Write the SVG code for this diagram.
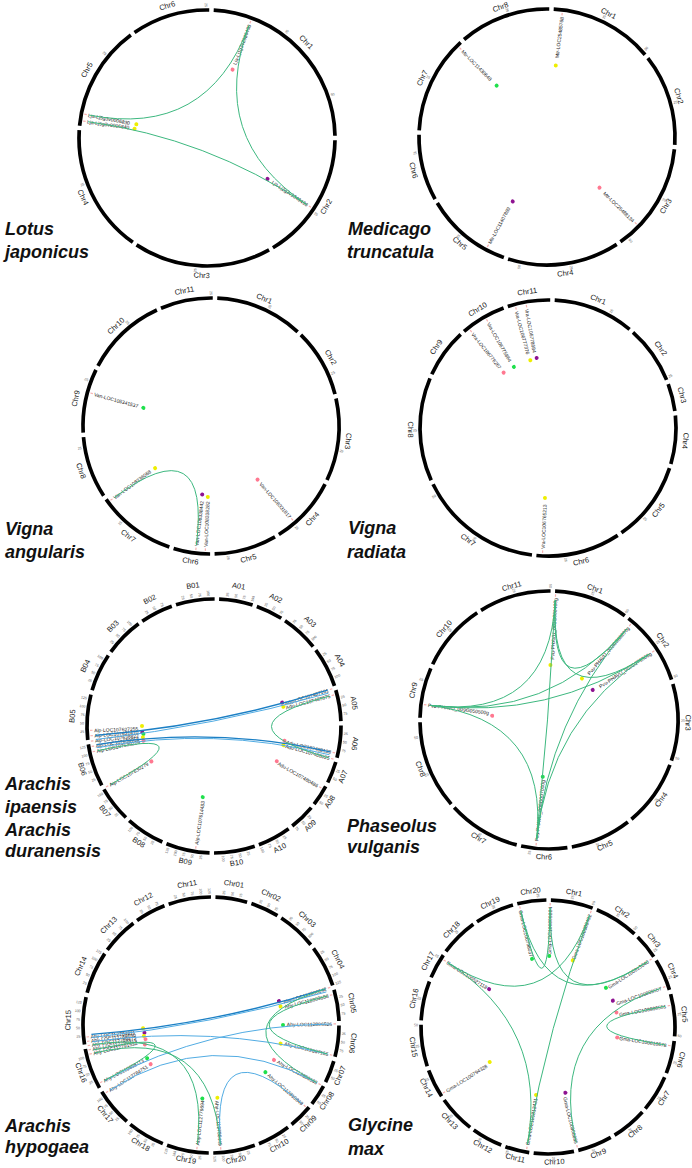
<svg xmlns="http://www.w3.org/2000/svg" width="692" height="1168" viewBox="0 0 692 1168">
<style>
.bg{fill:#fff}
.ch{fill:none;stroke:#000;stroke-width:3.7}
.cl{font-family:"Liberation Sans",Arial,sans-serif;font-size:7.5px;fill:#222;text-anchor:middle}
.tk{font-family:"Liberation Sans",Arial,sans-serif;font-size:3.6px;fill:#555;dominant-baseline:central}
.tl{text-anchor:end}
.g{font-family:"Liberation Sans",Arial,sans-serif;font-size:5px;fill:#222;dominant-baseline:central}
.ge{text-anchor:end}
.pk{stroke:#f7b0b0;stroke-width:1.2;fill:none}
.y{fill:#eeee00}.p{fill:#ff7890}.u{fill:#8e1291}.n{fill:#1fe04c}
.lk{fill:none;stroke:#3db87f;stroke-width:1}
.lb{fill:none;stroke:#1b7fc4;stroke-width:1.3}
.lc{fill:none;stroke:#52ace3;stroke-width:1}
.sp{font-family:"Liberation Sans",Arial,sans-serif;font-size:18px;font-weight:bold;font-style:italic;fill:#111}
</style>
<rect class="bg" width="692" height="1168"/>

<g id="species-labels">
<text class="sp" x="5" y="235">Lotus</text><text class="sp" x="5" y="258">japonicus</text>
<text class="sp" x="348" y="235">Medicago</text><text class="sp" x="347" y="258">truncatula</text>
<text class="sp" x="5" y="535">Vigna</text><text class="sp" x="5" y="558">angularis</text>
<text class="sp" x="348" y="534">Vigna</text><text class="sp" x="347" y="558">radiata</text>
<text class="sp" x="5" y="790">Arachis</text><text class="sp" x="5" y="813">ipaensis</text><text class="sp" x="5" y="836">Arachis</text><text class="sp" x="5" y="857">duranensis</text>
<text class="sp" x="347" y="832">Phaseolus</text><text class="sp" x="347" y="853">vulganis</text>
<text class="sp" x="5" y="1132">Arachis</text><text class="sp" x="5" y="1153">hypogaea</text>
<text class="sp" x="348" y="1131">Glycine</text><text class="sp" x="348" y="1155">max</text>
</g>

<!-- Lotus japonicus -->
<g id="lotus" transform="translate(207,138)">
<g id="lj-Chr1" transform="rotate(3)"><circle class="ch" r="128" pathLength="360" stroke-dasharray="86 360" transform="rotate(-90)"/><text class="cl" transform="rotate(43) translate(0,-135.5)">Chr1</text><text class="tk" transform="rotate(-56)" x="131">25</text><text class="tk" transform="rotate(-22)" x="131">50</text></g>
<g id="lj-Chr2" transform="rotate(91)"><circle class="ch" r="128" pathLength="360" stroke-dasharray="58 360" transform="rotate(-90)"/><text class="cl" transform="rotate(-151) translate(0,140)">Chr2</text><text class="tk" transform="rotate(-56)" x="131">25</text></g>
<g id="lj-Chr3" transform="rotate(151)"><circle class="ch" r="128" pathLength="360" stroke-dasharray="62.4 360" transform="rotate(-90)"/><text class="cl" transform="rotate(-148.8) translate(0,140)">Chr3</text><text class="tk tl" transform="rotate(124)" x="-131">25</text></g>
<g id="lj-Chr4" transform="rotate(215.4)"><circle class="ch" r="128" pathLength="360" stroke-dasharray="58.1 360" transform="rotate(-90)"/><text class="cl" transform="rotate(-150.95) translate(0,140)">Chr4</text><text class="tk tl" transform="rotate(124)" x="-131">25</text></g>
<g id="lj-Chr5" transform="rotate(275.5)"><circle class="ch" r="128" pathLength="360" stroke-dasharray="48 360" transform="rotate(-90)"/><text class="cl" transform="rotate(24) translate(0,-135.5)">Chr5</text><text class="tk tl" transform="rotate(124)" x="-131">25</text></g>
<g id="lj-Chr6" transform="rotate(325.5)"><circle class="ch" r="128" pathLength="360" stroke-dasharray="35.5 360" transform="rotate(-90)"/><text class="cl" transform="rotate(17.75) translate(0,-135.5)">Chr6</text><text class="tk tl" transform="rotate(124)" x="-131">25</text></g>
<g id="lj-g1"><path class="pk" d="M122.5,0H125" transform="rotate(-69.5)"/><text class="g ge" transform="rotate(-69.5)" x="121">Lja-Lj1g3v2986490</text><circle class="p" r="2" transform="rotate(20.5) translate(0,-73)"/></g>
<g id="lj-g2"><path class="pk" d="M122.5,0H125" transform="rotate(33.7)"/><text class="g ge" transform="rotate(33.7)" x="121">Lja-Lj2g3v3349490</text><circle class="u" r="2" transform="rotate(124) translate(0,-73)"/></g>
<g id="lj-g3"><path class="pk" d="M-122.5,0H-125" transform="rotate(11)"/><text class="g" transform="rotate(11)" x="-121">Lja-Lj5g3v0006830</text><circle class="y" r="2" transform="rotate(281) translate(0,-72)"/></g>
<g id="lj-g4"><path class="pk" d="M-122.5,0H-125" transform="rotate(7.8)"/><text class="g" transform="rotate(7.8)" x="-121">Lja-Lj5g3v0006840</text><circle class="y" r="2" transform="rotate(277.3) translate(0,-73)"/></g>
<g id="lj-links"><path class="lk" d="M42,-112.4Q0,0 -117.8,-22.9"/><path class="lk" d="M42,-112.4Q0,0 99.8,66.6"/><path class="lk" d="M-118.9,-16.3Q0,0 99.8,66.6"/></g>
</g>

<!-- Medicago truncatula -->
<g id="medicago" transform="translate(547,137)">
<g id="mt-Chr1" transform="rotate(3)"><circle class="ch" r="128" pathLength="360" stroke-dasharray="47 360" transform="rotate(-90)"/><text class="cl" transform="rotate(23.5) translate(0,-135.5)">Chr1</text><text class="tk" transform="rotate(-67.4)" x="131">25</text><text class="tk" transform="rotate(-44.6)" x="131">50</text></g>
<g id="mt-Chr2" transform="rotate(52)"><circle class="ch" r="128" pathLength="360" stroke-dasharray="41.5 360" transform="rotate(-90)"/><text class="cl" transform="rotate(20.75) translate(0,-135.5)">Chr2</text><text class="tk" transform="rotate(-67)" x="131">25</text></g>
<g id="mt-Chr3" transform="rotate(95.5)"><circle class="ch" r="128" pathLength="360" stroke-dasharray="49.5 360" transform="rotate(-90)"/><text class="cl" transform="rotate(-155.25) translate(0,140)">Chr3</text><text class="tk" transform="rotate(-67.2)" x="131">25</text><text class="tk" transform="rotate(-44.2)" x="131">50</text></g>
<g id="mt-Chr4" transform="rotate(147)"><circle class="ch" r="128" pathLength="360" stroke-dasharray="50.7 360" transform="rotate(-90)"/><text class="cl" transform="rotate(-154.65) translate(0,140)">Chr4</text><text class="tk" transform="rotate(-67.4)" x="131">25</text><text class="tk tl" transform="rotate(135)" x="-131">50</text></g>
<g id="mt-Chr5" transform="rotate(199.7)"><circle class="ch" r="128" pathLength="360" stroke-dasharray="39.3 360" transform="rotate(-90)"/><text class="cl" transform="rotate(-160.35) translate(0,140)">Chr5</text><text class="tk tl" transform="rotate(112)" x="-131">25</text></g>
<g id="mt-Chr6" transform="rotate(241)"><circle class="ch" r="128" pathLength="360" stroke-dasharray="30 360" transform="rotate(-90)"/><text class="cl" transform="rotate(-165) translate(0,140)">Chr6</text><text class="tk tl" transform="rotate(112)" x="-131">25</text></g>
<g id="mt-Chr7" transform="rotate(273)"><circle class="ch" r="128" pathLength="360" stroke-dasharray="44.6 360" transform="rotate(-90)"/><text class="cl" transform="rotate(22.3) translate(0,-135.5)">Chr7</text><text class="tk tl" transform="rotate(113.6)" x="-131">25</text></g>
<g id="mt-Chr8" transform="rotate(319.6)"><circle class="ch" r="128" pathLength="360" stroke-dasharray="41.4 360" transform="rotate(-90)"/><text class="cl" transform="rotate(20.7) translate(0,-135.5)">Chr8</text><text class="tk tl" transform="rotate(112.9)" x="-131">25</text></g>
<g id="mt-g1"><path class="pk" d="M122.5,0H125" transform="rotate(-83)"/><text class="g ge" transform="rotate(-83)" x="121">Mtr-LOC25485768</text><circle class="y" r="2" transform="rotate(7) translate(0,-72)"/></g>
<g id="mt-g2"><path class="pk" d="M-122.5,0H-125" transform="rotate(45.6)"/><text class="g" transform="rotate(45.6)" x="-121">Mtr-LOC11430648</text><circle class="n" r="2" transform="rotate(315.6) translate(0,-72)"/></g>
<g id="mt-g3"><path class="pk" d="M122.5,0H125" transform="rotate(44.2)"/><text class="g ge" transform="rotate(44.2)" x="121">Mtr-LOC25488134</text><circle class="p" r="2" transform="rotate(134) translate(0,-73)"/></g>
<g id="mt-g4"><path class="pk" d="M-122.5,0H-125" transform="rotate(298.5)"/><text class="g" transform="rotate(298.5)" x="-121">Mtr-LOC11407889</text><circle class="u" r="2" transform="rotate(208) translate(0,-73)"/></g>
</g>

<!-- Vigna angularis -->
<g id="vigna-angularis" transform="translate(211,426)">
<g id="va-Chr1" transform="rotate(2.8)"><circle class="ch" r="128" pathLength="360" stroke-dasharray="39.8 360" transform="rotate(-90)"/><text class="cl" transform="rotate(19.9) translate(0,-135.5)">Chr1</text><text class="tk" transform="rotate(-66.5)" x="131">25</text></g>
<g id="va-Chr2" transform="rotate(44.6)"><circle class="ch" r="128" pathLength="360" stroke-dasharray="31 360" transform="rotate(-90)"/><text class="cl" transform="rotate(15.5) translate(0,-135.5)">Chr2</text><text class="tk" transform="rotate(-68)" x="131">25</text></g>
<g id="va-Chr3" transform="rotate(77.6)"><circle class="ch" r="128" pathLength="360" stroke-dasharray="37.4 360" transform="rotate(-90)"/><text class="cl" transform="rotate(18.7) translate(0,-135.5)">Chr3</text><text class="tk" transform="rotate(-66.6)" x="131">25</text></g>
<g id="va-Chr4" transform="rotate(117)"><circle class="ch" r="128" pathLength="360" stroke-dasharray="31 360" transform="rotate(-90)"/><text class="cl" transform="rotate(-164.5) translate(0,140)">Chr4</text><text class="tk" transform="rotate(-67)" x="131">25</text></g>
<g id="va-Chr5" transform="rotate(150)"><circle class="ch" r="128" pathLength="360" stroke-dasharray="28.4 360" transform="rotate(-90)"/><text class="cl" transform="rotate(-165.8) translate(0,140)">Chr5</text><text class="tk" transform="rotate(-67.3)" x="131">25</text></g>
<g id="va-Chr6" transform="rotate(180.4)"><circle class="ch" r="128" pathLength="360" stroke-dasharray="16.6 360" transform="rotate(-90)"/><text class="cl" transform="rotate(-171.7) translate(0,139)">Chr6</text></g>
<g id="va-Chr7" transform="rotate(199)"><circle class="ch" r="128" pathLength="360" stroke-dasharray="36 360" transform="rotate(-90)"/><text class="cl" transform="rotate(-162) translate(0,140)">Chr7</text><text class="tk tl" transform="rotate(114)" x="-131">25</text></g>
<g id="va-Chr8" transform="rotate(237)"><circle class="ch" r="128" pathLength="360" stroke-dasharray="28 360" transform="rotate(-90)"/><text class="cl" transform="rotate(-166) translate(0,140)">Chr8</text><text class="tk tl" transform="rotate(113.3)" x="-131">25</text></g>
<g id="va-Chr9" transform="rotate(267)"><circle class="ch" r="128" pathLength="360" stroke-dasharray="29 360" transform="rotate(-90)"/><text class="cl" transform="rotate(14.5) translate(0,-135.5)">Chr9</text><text class="tk tl" transform="rotate(113.3)" x="-131">25</text></g>
<g id="va-Chr10" transform="rotate(298)"><circle class="ch" r="128" pathLength="360" stroke-dasharray="37 360" transform="rotate(-90)"/><text class="cl" transform="rotate(18.5) translate(0,-135.5)">Chr10</text><text class="tk tl" transform="rotate(113)" x="-131">25</text></g>
<g id="va-Chr11" transform="rotate(337)"><circle class="ch" r="128" pathLength="360" stroke-dasharray="23.8 360" transform="rotate(-90)"/><text class="cl" transform="rotate(11.9) translate(0,-135.5)">Chr11</text><text class="tk tl" transform="rotate(112.9)" x="-131">25</text></g>
<g id="va-g1"><path class="pk" d="M-122.5,0H-125" transform="rotate(15.3)"/><text class="g" transform="rotate(15.3)" x="-121">Van-LOC108341537</text><circle class="n" r="2" transform="rotate(285) translate(0,-70)"/></g>
<g id="va-g2"><path class="pk" d="M-122.5,0H-125" transform="rotate(323.5)"/><text class="g" transform="rotate(323.5)" x="-121">Van-LOC108336068</text><circle class="y" r="2" transform="rotate(233) translate(0,-70)"/></g>
<g id="va-g3"><path class="pk" d="M-122.5,0H-125" transform="rotate(277)"/><text class="g" transform="rotate(277)" x="-121">Van-LOC108338442</text><circle class="u" r="2" transform="rotate(187.3) translate(0,-69)"/></g>
<g id="va-g4"><path class="pk" d="M-122.5,0H-125" transform="rotate(272.6)"/><text class="g" transform="rotate(272.6)" x="-121">Van-LOC108338282</text><circle class="y" r="2" transform="rotate(182.6) translate(0,-71)"/></g>
<g id="va-g5"><path class="pk" d="M122.5,0H125" transform="rotate(49)"/><text class="g ge" transform="rotate(49)" x="121">Van-LOC108331817</text><circle class="p" r="2" transform="rotate(139) translate(0,-71)"/></g>
<g id="va-links"><path class="lk" d="M-96.5,71.4Q0,0 -14.6,119.1"/></g>
</g>

<!-- Vigna radiata -->
<g id="vigna-radiata" transform="translate(548,428)">
<g id="vr-Chr1" transform="rotate(3)"><circle class="ch" r="128" pathLength="360" stroke-dasharray="36.6 360" transform="rotate(-90)"/><text class="cl" transform="rotate(18.3) translate(0,-135.5)">Chr1</text><text class="tk" transform="rotate(-64.4)" x="131">25</text></g>
<g id="vr-Chr2" transform="rotate(41.6)"><circle class="ch" r="128" pathLength="360" stroke-dasharray="26.3 360" transform="rotate(-90)"/><text class="cl" transform="rotate(13.15) translate(0,-135.5)">Chr2</text><text class="tk" transform="rotate(-64.6)" x="131">25</text></g>
<g id="vr-Chr3" transform="rotate(69.9)"><circle class="ch" r="128" pathLength="360" stroke-dasharray="12.5 360" transform="rotate(-90)"/><text class="cl" transform="rotate(6.25) translate(0,-135.5)">Chr3</text></g>
<g id="vr-Chr4" transform="rotate(84.4)"><circle class="ch" r="128" pathLength="360" stroke-dasharray="21.9 360" transform="rotate(-90)"/><text class="cl" transform="rotate(10.95) translate(0,-135.5)">Chr4</text></g>
<g id="vr-Chr5" transform="rotate(108.3)"><circle class="ch" r="128" pathLength="360" stroke-dasharray="36.7 360" transform="rotate(-90)"/><text class="cl" transform="rotate(-161.65) translate(0,140)">Chr5</text><text class="tk" transform="rotate(-65.1)" x="131">25</text></g>
<g id="vr-Chr6" transform="rotate(147)"><circle class="ch" r="128" pathLength="360" stroke-dasharray="38.2 360" transform="rotate(-90)"/><text class="cl" transform="rotate(-160.9) translate(0,140)">Chr6</text><text class="tk" transform="rotate(-64.6)" x="131">25</text></g>
<g id="vr-Chr7" transform="rotate(187.2)"><circle class="ch" r="128" pathLength="360" stroke-dasharray="56.7 360" transform="rotate(-90)"/><text class="cl" transform="rotate(-151.65) translate(0,140)">Chr7</text><text class="tk tl" transform="rotate(116.3)" x="-131">25</text><text class="tk tl" transform="rotate(141.7)" x="-131">50</text></g>
<g id="vr-Chr8" transform="rotate(245.9)"><circle class="ch" r="128" pathLength="360" stroke-dasharray="46.9 360" transform="rotate(-90)"/><text class="cl" transform="rotate(-156.55) translate(0,140)">Chr8</text><text class="tk tl" transform="rotate(113)" x="-131">25</text></g>
<g id="vr-Chr9" transform="rotate(294.8)"><circle class="ch" r="128" pathLength="360" stroke-dasharray="22.2 360" transform="rotate(-90)"/><text class="cl" transform="rotate(11.1) translate(0,-135.5)">Chr9</text></g>
<g id="vr-Chr10" transform="rotate(319)"><circle class="ch" r="128" pathLength="360" stroke-dasharray="20.7 360" transform="rotate(-90)"/><text class="cl" transform="rotate(10.35) translate(0,-135.5)">Chr10</text></g>
<g id="vr-Chr11" transform="rotate(341.7)"><circle class="ch" r="128" pathLength="360" stroke-dasharray="19.3 360" transform="rotate(-90)"/><text class="cl" transform="rotate(9.65) translate(0,-135.5)">Chr11</text></g>
<g id="vr-g1"><path class="pk" d="M-122.5,0H-125" transform="rotate(80)"/><text class="g" transform="rotate(80)" x="-121">Vra-LOC106778684</text><circle class="u" r="2" transform="rotate(350.8) translate(0,-71)"/></g>
<g id="vr-g2"><path class="pk" d="M-122.5,0H-125" transform="rotate(75)"/><text class="g" transform="rotate(75)" x="-121">Vra-LOC106777376</text><circle class="y" r="2" transform="rotate(345.4) translate(0,-70)"/></g>
<g id="vr-g3"><path class="pk" d="M-122.5,0H-125" transform="rotate(60.5)"/><text class="g" transform="rotate(60.5)" x="-121">Vra-LOC106775864</text><circle class="n" r="2" transform="rotate(330.8) translate(0,-70)"/></g>
<g id="vr-g4"><path class="pk" d="M-122.5,0H-125" transform="rotate(51.5)"/><text class="g" transform="rotate(51.5)" x="-121">Vra-LOC106776267</text><circle class="p" r="2" transform="rotate(321.3) translate(0,-71)"/></g>
<g id="vr-g5"><path class="pk" d="M-122.5,0H-125" transform="rotate(272.5)"/><text class="g" transform="rotate(272.5)" x="-121">Vra-LOC106765213</text><circle class="y" r="2" transform="rotate(182.5) translate(0,-70)"/></g>
</g>

<!-- Arachis ipaensis / duranensis -->
<g id="arachis-ipaensis-duranensis" transform="translate(214,726)">
<g id="ai-A01" transform="rotate(2.3)"><circle class="ch" r="127" pathLength="360" stroke-dasharray="15.4 360" transform="rotate(-90)"/><text class="cl" transform="rotate(7.7) translate(0,-139.5)">A01</text><text class="tk" transform="rotate(-86.3)" x="130">25</text><text class="tk" transform="rotate(-82.6)" x="130">50</text><text class="tk" transform="rotate(-78.9)" x="130">75</text><text class="tk" transform="rotate(-75.2)" x="130">100</text></g>
<g id="ai-A02" transform="rotate(19.7)"><circle class="ch" r="127" pathLength="360" stroke-dasharray="12.3 360" transform="rotate(-90)"/><text class="cl" transform="rotate(6.15) translate(0,-139.5)">A02</text><text class="tk" transform="rotate(-86.3)" x="130">25</text><text class="tk" transform="rotate(-82.6)" x="130">50</text><text class="tk" transform="rotate(-78.9)" x="130">75</text></g>
<g id="ai-A03" transform="rotate(34)"><circle class="ch" r="127" pathLength="360" stroke-dasharray="17.3 360" transform="rotate(-90)"/><text class="cl" transform="rotate(8.65) translate(0,-139.5)">A03</text><text class="tk" transform="rotate(-86.3)" x="130">25</text><text class="tk" transform="rotate(-82.6)" x="130">50</text><text class="tk" transform="rotate(-78.9)" x="130">75</text><text class="tk" transform="rotate(-75.2)" x="130">100</text></g>
<g id="ai-A04" transform="rotate(53.3)"><circle class="ch" r="127" pathLength="360" stroke-dasharray="18.3 360" transform="rotate(-90)"/><text class="cl" transform="rotate(9.15) translate(0,-139.5)">A04</text><text class="tk" transform="rotate(-86.3)" x="130">25</text><text class="tk" transform="rotate(-82.6)" x="130">50</text><text class="tk" transform="rotate(-78.9)" x="130">75</text><text class="tk" transform="rotate(-75.2)" x="130">100</text></g>
<g id="ai-A05" transform="rotate(73.6)"><circle class="ch" r="127" pathLength="360" stroke-dasharray="14.2 360" transform="rotate(-90)"/><text class="cl" transform="rotate(7.1) translate(0,-139.5)">A05</text><text class="tk" transform="rotate(-86.3)" x="130">25</text><text class="tk" transform="rotate(-82.6)" x="130">50</text><text class="tk" transform="rotate(-78.9)" x="130">75</text></g>
<g id="ai-A06" transform="rotate(89.8)"><circle class="ch" r="127" pathLength="360" stroke-dasharray="14.7 360" transform="rotate(-90)"/><text class="cl" transform="rotate(7.35) translate(0,-139.5)">A06</text><text class="tk" transform="rotate(-86.3)" x="130">25</text><text class="tk" transform="rotate(-82.6)" x="130">50</text><text class="tk" transform="rotate(-78.9)" x="130">75</text></g>
<g id="ai-A07" transform="rotate(106.5)"><circle class="ch" r="127" pathLength="360" stroke-dasharray="9.9 360" transform="rotate(-90)"/><text class="cl" transform="rotate(-175.05) translate(0,141)">A07</text><text class="tk" transform="rotate(-86.3)" x="130">25</text><text class="tk" transform="rotate(-82.6)" x="130">50</text></g>
<g id="ai-A08" transform="rotate(118.4)"><circle class="ch" r="127" pathLength="360" stroke-dasharray="9.6 360" transform="rotate(-90)"/><text class="cl" transform="rotate(-175.2) translate(0,141)">A08</text><text class="tk" transform="rotate(-86.3)" x="130">25</text><text class="tk" transform="rotate(-82.6)" x="130">50</text></g>
<g id="ai-A09" transform="rotate(130)"><circle class="ch" r="127" pathLength="360" stroke-dasharray="12 360" transform="rotate(-90)"/><text class="cl" transform="rotate(-174) translate(0,141)">A09</text><text class="tk" transform="rotate(-86.3)" x="130">25</text><text class="tk" transform="rotate(-82.6)" x="130">50</text><text class="tk" transform="rotate(-78.9)" x="130">75</text></g>
<g id="ai-A10" transform="rotate(144)"><circle class="ch" r="127" pathLength="360" stroke-dasharray="15.3 360" transform="rotate(-90)"/><text class="cl" transform="rotate(-172.35) translate(0,141)">A10</text><text class="tk" transform="rotate(-86.3)" x="130">25</text><text class="tk" transform="rotate(-82.6)" x="130">50</text><text class="tk" transform="rotate(-78.9)" x="130">75</text><text class="tk" transform="rotate(-75.2)" x="130">100</text></g>
<g id="ai-B10" transform="rotate(161.3)"><circle class="ch" r="127" pathLength="360" stroke-dasharray="18.7 360" transform="rotate(-90)"/><text class="cl" transform="rotate(-170.65) translate(0,141)">B10</text><text class="tk" transform="rotate(-86.3)" x="130">25</text><text class="tk" transform="rotate(-82.6)" x="130">50</text><text class="tk" transform="rotate(-78.9)" x="130">75</text><text class="tk" transform="rotate(-75.2)" x="130">100</text></g>
<g id="ai-B09" transform="rotate(182)"><circle class="ch" r="127" pathLength="360" stroke-dasharray="20 360" transform="rotate(-90)"/><text class="cl" transform="rotate(-170) translate(0,141)">B09</text><text class="tk tl" transform="rotate(93.7)" x="-130">25</text><text class="tk tl" transform="rotate(97.4)" x="-130">50</text><text class="tk tl" transform="rotate(101.1)" x="-130">75</text><text class="tk tl" transform="rotate(104.8)" x="-130">100</text><text class="tk tl" transform="rotate(108.5)" x="-130">125</text></g>
<g id="ai-B08" transform="rotate(204)"><circle class="ch" r="127" pathLength="360" stroke-dasharray="17.9 360" transform="rotate(-90)"/><text class="cl" transform="rotate(-171.05) translate(0,141)">B08</text><text class="tk tl" transform="rotate(93.7)" x="-130">25</text><text class="tk tl" transform="rotate(97.4)" x="-130">50</text><text class="tk tl" transform="rotate(101.1)" x="-130">75</text><text class="tk tl" transform="rotate(104.8)" x="-130">100</text></g>
<g id="ai-B07" transform="rotate(223.9)"><circle class="ch" r="127" pathLength="360" stroke-dasharray="16.2 360" transform="rotate(-90)"/><text class="cl" transform="rotate(-171.9) translate(0,141)">B07</text><text class="tk tl" transform="rotate(93.7)" x="-130">25</text><text class="tk tl" transform="rotate(97.4)" x="-130">50</text><text class="tk tl" transform="rotate(101.1)" x="-130">75</text><text class="tk tl" transform="rotate(104.8)" x="-130">100</text></g>
<g id="ai-B06" transform="rotate(242.1)"><circle class="ch" r="127" pathLength="360" stroke-dasharray="19.6 360" transform="rotate(-90)"/><text class="cl" transform="rotate(-170.2) translate(0,141)">B06</text><text class="tk tl" transform="rotate(93.7)" x="-130">25</text><text class="tk tl" transform="rotate(97.4)" x="-130">50</text><text class="tk tl" transform="rotate(101.1)" x="-130">75</text><text class="tk tl" transform="rotate(104.8)" x="-130">100</text><text class="tk tl" transform="rotate(108.5)" x="-130">125</text></g>
<g id="ai-B05" transform="rotate(263.7)"><circle class="ch" r="127" pathLength="360" stroke-dasharray="20.6 360" transform="rotate(-90)"/><text class="cl" transform="rotate(10.3) translate(0,-139.5)">B05</text><text class="tk tl" transform="rotate(93.7)" x="-130">25</text><text class="tk tl" transform="rotate(97.4)" x="-130">50</text><text class="tk tl" transform="rotate(101.1)" x="-130">75</text><text class="tk tl" transform="rotate(104.8)" x="-130">100</text><text class="tk tl" transform="rotate(108.5)" x="-130">125</text></g>
<g id="ai-B04" transform="rotate(286.3)"><circle class="ch" r="127" pathLength="360" stroke-dasharray="17.4 360" transform="rotate(-90)"/><text class="cl" transform="rotate(8.7) translate(0,-139.5)">B04</text><text class="tk tl" transform="rotate(93.7)" x="-130">25</text><text class="tk tl" transform="rotate(97.4)" x="-130">50</text><text class="tk tl" transform="rotate(101.1)" x="-130">75</text><text class="tk tl" transform="rotate(104.8)" x="-130">100</text></g>
<g id="ai-B03" transform="rotate(305.7)"><circle class="ch" r="127" pathLength="360" stroke-dasharray="17.9 360" transform="rotate(-90)"/><text class="cl" transform="rotate(8.95) translate(0,-139.5)">B03</text><text class="tk tl" transform="rotate(93.7)" x="-130">25</text><text class="tk tl" transform="rotate(97.4)" x="-130">50</text><text class="tk tl" transform="rotate(101.1)" x="-130">75</text><text class="tk tl" transform="rotate(104.8)" x="-130">100</text></g>
<g id="ai-B02" transform="rotate(325.6)"><circle class="ch" r="127" pathLength="360" stroke-dasharray="15 360" transform="rotate(-90)"/><text class="cl" transform="rotate(7.5) translate(0,-139.5)">B02</text><text class="tk tl" transform="rotate(93.7)" x="-130">25</text><text class="tk tl" transform="rotate(97.4)" x="-130">50</text><text class="tk tl" transform="rotate(101.1)" x="-130">75</text></g>
<g id="ai-B01" transform="rotate(342.6)"><circle class="ch" r="127" pathLength="360" stroke-dasharray="17.7 360" transform="rotate(-90)"/><text class="cl" transform="rotate(8.85) translate(0,-139.5)">B01</text><text class="tk tl" transform="rotate(93.7)" x="-130">25</text><text class="tk tl" transform="rotate(97.4)" x="-130">50</text><text class="tk tl" transform="rotate(101.1)" x="-130">75</text><text class="tk tl" transform="rotate(104.8)" x="-130">100</text></g>
<g id="ai-gR1"><path class="pk" d="M121.5,0H124" transform="rotate(-17.5)"/><text class="g ge" transform="rotate(-17.5)" x="120">Adu-LOC107487101</text><circle class="u" r="2" transform="rotate(71) translate(0,-72)"/></g>
<g id="ai-gR2"><path class="pk" d="M121.5,0H124" transform="rotate(-14.5)"/><text class="g ge" transform="rotate(-14.5)" x="120">Adu-LOC107487875</text><circle class="y" r="2" transform="rotate(74.5) translate(0,-72)"/></g>
<g id="ai-gR3"><path class="pk" d="M121.5,0H124" transform="rotate(12.5)"/><text class="g ge" transform="rotate(12.5)" x="120">Adu-LOC107488133</text><circle class="p" r="2" transform="rotate(101.8) translate(0,-72)"/></g>
<g id="ai-gR4"><path class="pk" d="M121.5,0H124" transform="rotate(15.5)"/><text class="g ge" transform="rotate(15.5)" x="120">Adu-LOC107488025</text><circle class="y" r="2" transform="rotate(105.4) translate(0,-72)"/></g>
<g id="ai-gR5"><path class="pk" d="M121.5,0H124" transform="rotate(30)"/><text class="g ge" transform="rotate(30)" x="120">Adu-LOC107480486</text><circle class="p" r="2" transform="rotate(119.3) translate(0,-72)"/></g>
<g id="ai-gL1"><path class="pk" d="M-121.5,0H-124" transform="rotate(358)"/><text class="g" transform="rotate(358)" x="-120">Aip-LOC107627255</text><circle class="y" r="2" transform="rotate(270) translate(0,-72)"/></g>
<g id="ai-gL2"><path class="pk" d="M-121.5,0H-124" transform="rotate(355.5)"/><text class="g" transform="rotate(355.5)" x="-120">Aip-LOC107631410</text><circle class="u" r="2" transform="rotate(265) translate(0,-72)"/></g>
<g id="ai-gL3"><path class="pk" d="M-121.5,0H-124" transform="rotate(353)"/><text class="g" transform="rotate(353)" x="-120">Aip-LOC107638822</text><circle class="n" r="2" transform="rotate(263.6) translate(0,-71)"/></g>
<g id="ai-gL4"><path class="pk" d="M-121.5,0H-124" transform="rotate(350.5)"/><text class="g" transform="rotate(350.5)" x="-120">Aip-LOC107630955</text><circle class="y" r="2" transform="rotate(261) translate(0,-72)"/></g>
<g id="ai-gL5"><path class="pk" d="M-121.5,0H-124" transform="rotate(348)"/><text class="g" transform="rotate(348)" x="-120">Aip-LOC107639229</text><circle class="p" r="2" transform="rotate(258.2) translate(0,-72)"/></g>
<g id="ai-gL6"><path class="pk" d="M-121.5,0H-124" transform="rotate(330.5)"/><text class="g" transform="rotate(330.5)" x="-120">Aip-LOC107630279</text><circle class="p" r="2" transform="rotate(240.5) translate(0,-72)"/></g>
<g id="ai-gL7"><path class="pk" d="M-121.5,0H-124" transform="rotate(278.5)"/><text class="g" transform="rotate(278.5)" x="-120">Aip-LOC107614483</text><circle class="n" r="2" transform="rotate(189) translate(0,-72)"/></g>
<g id="ai-links">
<path class="lb" d="M-118.6,9.3Q0,0 113.5,-35.8"/><path class="lc" d="M-118.2,13.5Q0,0 114.4,-32.8"/>
<path class="lb" d="M-117.5,18.6Q0,0 116.2,25.8"/><path class="lc" d="M-117,21.7Q0,0 115.5,28.8"/>
<path class="lk" d="M115.2,-29.8Q0,0 114.7,31.8"/>
<path class="lk" d="M-116.4,24.7Q0,0 -103.6,58.6"/>
</g>
</g>

<!-- Phaseolus vulgaris -->
<g id="phaseolus" transform="translate(549,720)">
<g id="pv-Chr1" transform="rotate(2.7)"><circle class="ch" r="129" pathLength="360" stroke-dasharray="33.3 360" transform="rotate(-90)"/><text class="cl" transform="rotate(16.65) translate(0,-136.5)">Chr1</text><text class="tk" transform="rotate(-73.5)" x="132">25</text><text class="tk" transform="rotate(-57)" x="132">50</text></g>
<g id="pv-Chr2" transform="rotate(38)"><circle class="ch" r="129" pathLength="360" stroke-dasharray="33.8 360" transform="rotate(-90)"/><text class="cl" transform="rotate(16.9) translate(0,-136.5)">Chr2</text><text class="tk" transform="rotate(-73.5)" x="132">25</text><text class="tk" transform="rotate(-57)" x="132">50</text></g>
<g id="pv-Chr3" transform="rotate(73.8)"><circle class="ch" r="129" pathLength="360" stroke-dasharray="34.6 360" transform="rotate(-90)"/><text class="cl" transform="rotate(17.3) translate(0,-136.5)">Chr3</text><text class="tk" transform="rotate(-73.5)" x="132">25</text><text class="tk" transform="rotate(-57)" x="132">50</text></g>
<g id="pv-Chr4" transform="rotate(110.4)"><circle class="ch" r="129" pathLength="360" stroke-dasharray="29.9 360" transform="rotate(-90)"/><text class="cl" transform="rotate(-165.05) translate(0,140)">Chr4</text><text class="tk" transform="rotate(-73.5)" x="132">25</text></g>
<g id="pv-Chr5" transform="rotate(142.3)"><circle class="ch" r="129" pathLength="360" stroke-dasharray="27.5 360" transform="rotate(-90)"/><text class="cl" transform="rotate(-166.25) translate(0,140)">Chr5</text><text class="tk" transform="rotate(-73.5)" x="132">25</text></g>
<g id="pv-Chr6" transform="rotate(171.8)"><circle class="ch" r="129" pathLength="360" stroke-dasharray="20.7 360" transform="rotate(-90)"/><text class="cl" transform="rotate(-169.65) translate(0,139.5)">Chr6</text><text class="tk tl" transform="rotate(106.5)" x="-132">25</text></g>
<g id="pv-Chr7" transform="rotate(194.5)"><circle class="ch" r="129" pathLength="360" stroke-dasharray="32.8 360" transform="rotate(-90)"/><text class="cl" transform="rotate(-163.6) translate(0,140)">Chr7</text><text class="tk tl" transform="rotate(106.5)" x="-132">25</text></g>
<g id="pv-Chr8" transform="rotate(229.3)"><circle class="ch" r="129" pathLength="360" stroke-dasharray="39.7 360" transform="rotate(-90)"/><text class="cl" transform="rotate(-160.15) translate(0,140)">Chr8</text><text class="tk tl" transform="rotate(106.5)" x="-132">25</text><text class="tk tl" transform="rotate(123)" x="-132">50</text></g>
<g id="pv-Chr9" transform="rotate(271)"><circle class="ch" r="129" pathLength="360" stroke-dasharray="22.6 360" transform="rotate(-90)"/><text class="cl" transform="rotate(11.3) translate(0,-136.5)">Chr9</text><text class="tk tl" transform="rotate(106.5)" x="-132">25</text></g>
<g id="pv-Chr10" transform="rotate(295.6)"><circle class="ch" r="129" pathLength="360" stroke-dasharray="30.6 360" transform="rotate(-90)"/><text class="cl" transform="rotate(15.3) translate(0,-136.5)">Chr10</text><text class="tk tl" transform="rotate(106.5)" x="-132">25</text></g>
<g id="pv-Chr11" transform="rotate(328.2)"><circle class="ch" r="129" pathLength="360" stroke-dasharray="32.5 360" transform="rotate(-90)"/><text class="cl" transform="rotate(16.25) translate(0,-136.5)">Chr11</text><text class="tk tl" transform="rotate(106.5)" x="-132">25</text><text class="tk tl" transform="rotate(122.3)" x="-132">50</text></g>
<g id="pv-g1"><path class="pk" d="M123.5,0H126" transform="rotate(-87)"/><text class="g ge" transform="rotate(-87)" x="122">Pvu-PHAVU_001G000400g</text><circle class="y" r="2" transform="rotate(1.5) translate(0,-55)"/></g>
<g id="pv-g2"><path class="pk" d="M123.5,0H126" transform="rotate(-49.5)"/><text class="g ge" transform="rotate(-49.5)" x="122">Pvu-PHAVU_002G268200g</text><circle class="y" r="2" transform="rotate(38.4) translate(0,-53)"/></g>
<g id="pv-g3"><path class="pk" d="M123.5,0H126" transform="rotate(-33.3)"/><text class="g ge" transform="rotate(-33.3)" x="122">Pvu-PHAVU_002G275300g</text><circle class="u" r="2" transform="rotate(55.5) translate(0,-53)"/></g>
<g id="pv-g4"><path class="pk" d="M-123.5,0H-126" transform="rotate(7)"/><text class="g" transform="rotate(7)" x="-122">Pvu-PHAVU_009G050500g</text><circle class="p" r="2" transform="rotate(274.3) translate(0,-57)"/></g>
<g id="pv-g5"><path class="pk" d="M-123.5,0H-126" transform="rotate(275.9)"/><text class="g" transform="rotate(275.9)" x="-122">Pvu-PHAVU_006G007000g</text><circle class="n" r="2" transform="rotate(186.3) translate(0,-57)"/></g>
<g id="pv-links">
<path class="lk" d="M6.3,-119.8Q0,0 -119.1,-14.6"/>
<path class="lk" d="M6.3,-119.8Q0,0 77.9,-91.2"/>
<path class="lk" d="M6.3,-119.8Q0,0 100.3,-65.9"/>
<path class="lk" d="M6.3,-119.8Q0,0 -12.3,119.4"/>
<path class="lk" d="M77.9,-91.2Q0,0 -119.1,-14.6"/>
<path class="lk" d="M100.3,-65.9Q0,0 -119.1,-14.6"/>
<path class="lk" d="M77.9,-91.2Q0,0 -12.3,119.4"/>
<path class="lk" d="M100.3,-65.9Q0,0 -12.3,119.4"/>
<path class="lk" d="M-119.1,-14.6Q0,0 -12.3,119.4"/>
</g>
</g>

<!-- Arachis hypogaea -->
<g id="arachis-hypogaea" transform="translate(211,1025)">
<g id="ah-Chr01" transform="rotate(2)"><circle class="ch" r="128" pathLength="360" stroke-dasharray="14.4 360" transform="rotate(-90)"/><text class="cl" transform="rotate(7.2) translate(0,-140.5)">Chr01</text><text class="tk" transform="rotate(-86.3)" x="131">25</text><text class="tk" transform="rotate(-82.6)" x="131">50</text><text class="tk" transform="rotate(-78.9)" x="131">75</text></g>
<g id="ah-Chr02" transform="rotate(18.4)"><circle class="ch" r="128" pathLength="360" stroke-dasharray="12.9 360" transform="rotate(-90)"/><text class="cl" transform="rotate(6.45) translate(0,-140.5)">Chr02</text><text class="tk" transform="rotate(-86.3)" x="131">25</text><text class="tk" transform="rotate(-82.6)" x="131">50</text><text class="tk" transform="rotate(-78.9)" x="131">75</text></g>
<g id="ah-Chr03" transform="rotate(33.3)"><circle class="ch" r="128" pathLength="360" stroke-dasharray="17.9 360" transform="rotate(-90)"/><text class="cl" transform="rotate(8.95) translate(0,-140.5)">Chr03</text><text class="tk" transform="rotate(-86.3)" x="131">25</text><text class="tk" transform="rotate(-82.6)" x="131">50</text><text class="tk" transform="rotate(-78.9)" x="131">75</text><text class="tk" transform="rotate(-75.2)" x="131">100</text></g>
<g id="ah-Chr04" transform="rotate(53.2)"><circle class="ch" r="128" pathLength="360" stroke-dasharray="18.8 360" transform="rotate(-90)"/><text class="cl" transform="rotate(9.4) translate(0,-140.5)">Chr04</text><text class="tk" transform="rotate(-86.3)" x="131">25</text><text class="tk" transform="rotate(-82.6)" x="131">50</text><text class="tk" transform="rotate(-78.9)" x="131">75</text><text class="tk" transform="rotate(-75.2)" x="131">100</text><text class="tk" transform="rotate(-71.5)" x="131">125</text></g>
<g id="ah-Chr05" transform="rotate(74)"><circle class="ch" r="128" pathLength="360" stroke-dasharray="14.2 360" transform="rotate(-90)"/><text class="cl" transform="rotate(7.1) translate(0,-140.5)">Chr05</text><text class="tk" transform="rotate(-86.3)" x="131">25</text><text class="tk" transform="rotate(-82.6)" x="131">50</text><text class="tk" transform="rotate(-78.9)" x="131">75</text></g>
<g id="ah-Chr06" transform="rotate(90.2)"><circle class="ch" r="128" pathLength="360" stroke-dasharray="14.2 360" transform="rotate(-90)"/><text class="cl" transform="rotate(7.1) translate(0,-140.5)">Chr06</text><text class="tk" transform="rotate(-86.3)" x="131">25</text><text class="tk" transform="rotate(-82.6)" x="131">50</text><text class="tk" transform="rotate(-78.9)" x="131">75</text></g>
<g id="ah-Chr07" transform="rotate(106.4)"><circle class="ch" r="128" pathLength="360" stroke-dasharray="10.1 360" transform="rotate(-90)"/><text class="cl" transform="rotate(-174.95) translate(0,141)">Chr07</text><text class="tk" transform="rotate(-86.3)" x="131">25</text><text class="tk" transform="rotate(-82.6)" x="131">50</text></g>
<g id="ah-Chr08" transform="rotate(118.5)"><circle class="ch" r="128" pathLength="360" stroke-dasharray="9.5 360" transform="rotate(-90)"/><text class="cl" transform="rotate(-175.25) translate(0,141)">Chr08</text><text class="tk" transform="rotate(-86.3)" x="131">25</text><text class="tk" transform="rotate(-82.6)" x="131">50</text></g>
<g id="ah-Chr09" transform="rotate(130)"><circle class="ch" r="128" pathLength="360" stroke-dasharray="11 360" transform="rotate(-90)"/><text class="cl" transform="rotate(-174.5) translate(0,141)">Chr09</text><text class="tk" transform="rotate(-86.3)" x="131">25</text><text class="tk" transform="rotate(-82.6)" x="131">50</text></g>
<g id="ah-Chr10" transform="rotate(143)"><circle class="ch" r="128" pathLength="360" stroke-dasharray="15 360" transform="rotate(-90)"/><text class="cl" transform="rotate(-172.5) translate(0,141)">Chr10</text><text class="tk" transform="rotate(-86.3)" x="131">25</text><text class="tk" transform="rotate(-82.6)" x="131">50</text><text class="tk" transform="rotate(-78.9)" x="131">75</text></g>
<g id="ah-Chr20" transform="rotate(160)"><circle class="ch" r="128" pathLength="360" stroke-dasharray="19 360" transform="rotate(-90)"/><text class="cl" transform="rotate(-170.5) translate(0,139.5)">Chr20</text><text class="tk" transform="rotate(-86.3)" x="131">25</text><text class="tk" transform="rotate(-82.6)" x="131">50</text><text class="tk" transform="rotate(-78.9)" x="131">75</text><text class="tk" transform="rotate(-75.2)" x="131">100</text><text class="tk" transform="rotate(-71.5)" x="131">125</text></g>
<g id="ah-Chr19" transform="rotate(181)"><circle class="ch" r="128" pathLength="360" stroke-dasharray="19.1 360" transform="rotate(-90)"/><text class="cl" transform="rotate(-170.45) translate(0,139.5)">Chr19</text><text class="tk tl" transform="rotate(93.7)" x="-131">25</text><text class="tk tl" transform="rotate(97.4)" x="-131">50</text><text class="tk tl" transform="rotate(101.1)" x="-131">75</text><text class="tk tl" transform="rotate(104.8)" x="-131">100</text><text class="tk tl" transform="rotate(108.5)" x="-131">125</text></g>
<g id="ah-Chr18" transform="rotate(202.1)"><circle class="ch" r="128" pathLength="360" stroke-dasharray="17 360" transform="rotate(-90)"/><text class="cl" transform="rotate(-171.5) translate(0,141)">Chr18</text><text class="tk tl" transform="rotate(93.7)" x="-131">25</text><text class="tk tl" transform="rotate(97.4)" x="-131">50</text><text class="tk tl" transform="rotate(101.1)" x="-131">75</text><text class="tk tl" transform="rotate(104.8)" x="-131">100</text></g>
<g id="ah-Chr17" transform="rotate(221.1)"><circle class="ch" r="128" pathLength="360" stroke-dasharray="17.5 360" transform="rotate(-90)"/><text class="cl" transform="rotate(-171.25) translate(0,141)">Chr17</text><text class="tk tl" transform="rotate(93.7)" x="-131">25</text><text class="tk tl" transform="rotate(97.4)" x="-131">50</text><text class="tk tl" transform="rotate(101.1)" x="-131">75</text><text class="tk tl" transform="rotate(104.8)" x="-131">100</text></g>
<g id="ah-Chr16" transform="rotate(240.6)"><circle class="ch" r="128" pathLength="360" stroke-dasharray="18.6 360" transform="rotate(-90)"/><text class="cl" transform="rotate(-170.7) translate(0,141)">Chr16</text><text class="tk tl" transform="rotate(93.7)" x="-131">25</text><text class="tk tl" transform="rotate(97.4)" x="-131">50</text><text class="tk tl" transform="rotate(101.1)" x="-131">75</text><text class="tk tl" transform="rotate(104.8)" x="-131">100</text></g>
<g id="ah-Chr15" transform="rotate(261.2)"><circle class="ch" r="128" pathLength="360" stroke-dasharray="21.4 360" transform="rotate(-90)"/><text class="cl" transform="rotate(10.7) translate(0,-140.5)">Chr15</text><text class="tk tl" transform="rotate(93.7)" x="-131">25</text><text class="tk tl" transform="rotate(97.4)" x="-131">50</text><text class="tk tl" transform="rotate(101.1)" x="-131">75</text><text class="tk tl" transform="rotate(104.8)" x="-131">100</text><text class="tk tl" transform="rotate(108.5)" x="-131">125</text></g>
<g id="ah-Chr14" transform="rotate(284.6)"><circle class="ch" r="128" pathLength="360" stroke-dasharray="19.3 360" transform="rotate(-90)"/><text class="cl" transform="rotate(9.65) translate(0,-140.5)">Chr14</text><text class="tk tl" transform="rotate(93.7)" x="-131">25</text><text class="tk tl" transform="rotate(97.4)" x="-131">50</text><text class="tk tl" transform="rotate(101.1)" x="-131">75</text><text class="tk tl" transform="rotate(104.8)" x="-131">100</text><text class="tk tl" transform="rotate(108.5)" x="-131">125</text></g>
<g id="ah-Chr13" transform="rotate(305.9)"><circle class="ch" r="128" pathLength="360" stroke-dasharray="16.8 360" transform="rotate(-90)"/><text class="cl" transform="rotate(8.4) translate(0,-140.5)">Chr13</text><text class="tk tl" transform="rotate(93.7)" x="-131">25</text><text class="tk tl" transform="rotate(97.4)" x="-131">50</text><text class="tk tl" transform="rotate(101.1)" x="-131">75</text><text class="tk tl" transform="rotate(104.8)" x="-131">100</text></g>
<g id="ah-Chr12" transform="rotate(324.7)"><circle class="ch" r="128" pathLength="360" stroke-dasharray="14 360" transform="rotate(-90)"/><text class="cl" transform="rotate(7) translate(0,-140.5)">Chr12</text><text class="tk tl" transform="rotate(93.7)" x="-131">25</text><text class="tk tl" transform="rotate(97.4)" x="-131">50</text><text class="tk tl" transform="rotate(101.1)" x="-131">75</text></g>
<g id="ah-Chr11" transform="rotate(340.7)"><circle class="ch" r="128" pathLength="360" stroke-dasharray="19.3 360" transform="rotate(-90)"/><text class="cl" transform="rotate(9.65) translate(0,-140.5)">Chr11</text><text class="tk tl" transform="rotate(93.7)" x="-131">25</text><text class="tk tl" transform="rotate(97.4)" x="-131">50</text><text class="tk tl" transform="rotate(101.1)" x="-131">75</text><text class="tk tl" transform="rotate(104.8)" x="-131">100</text><text class="tk tl" transform="rotate(108.5)" x="-131">125</text></g>
<g id="ah-gR1"><path class="pk" d="M122.5,0H125" transform="rotate(-17.5)"/><text class="g ge" transform="rotate(-17.5)" x="121">Ahy-LOC112800142</text><circle class="u" r="2" transform="rotate(70.6) translate(0,-72)"/></g>
<g id="ah-gR2"><path class="pk" d="M122.5,0H125" transform="rotate(-14)"/><text class="g ge" transform="rotate(-14)" x="121">Ahy-LOC112803658</text><circle class="y" r="2" transform="rotate(75) translate(0,-72)"/></g>
<g id="ah-gR3"><path class="pk" d="M122.5,0H125" transform="rotate(-0.5)"/><text class="g ge" transform="rotate(-0.5)" x="121">Ahy-LOC112806526</text><circle class="n" r="2" transform="rotate(90) translate(0,-72)"/></g>
<g id="ah-gR4"><path class="pk" d="M122.5,0H125" transform="rotate(14)"/><text class="g ge" transform="rotate(14)" x="121">Ahy-LOC112807155</text><circle class="y" r="2" transform="rotate(105) translate(0,-72)"/></g>
<g id="ah-gR5"><path class="pk" d="M122.5,0H125" transform="rotate(28.6)"/><text class="g ge" transform="rotate(28.6)" x="121">Ahy-LOC112808683</text><circle class="p" r="2" transform="rotate(119) translate(0,-72)"/></g>
<g id="ah-gR6"><path class="pk" d="M122.5,0H125" transform="rotate(40.8)"/><text class="g ge" transform="rotate(40.8)" x="121">Ahy-LOC112810848</text><circle class="n" r="2" transform="rotate(130.9) translate(0,-72)"/></g>
<g id="ah-gL1"><path class="pk" d="M-122.5,0H-125" transform="rotate(354.5)"/><text class="g" transform="rotate(354.5)" x="-121">Ahy-LOC112784811</text><circle class="y" r="2" transform="rotate(267.2) translate(0,-68)"/></g>
<g id="ah-gL2"><path class="pk" d="M-122.5,0H-125" transform="rotate(352.5)"/><text class="g" transform="rotate(352.5)" x="-121">Ahy-LOC112788650</text><circle class="u" r="2" transform="rotate(263.4) translate(0,-67)"/></g>
<g id="ah-gL3"><path class="pk" d="M-122.5,0H-125" transform="rotate(350.5)"/><text class="g" transform="rotate(350.5)" x="-121">Ahy-LOC112789473</text><circle class="y" r="2" transform="rotate(260.7) translate(0,-68)"/></g>
<g id="ah-gL4"><path class="pk" d="M-122.5,0H-125" transform="rotate(348.5)"/><text class="g" transform="rotate(348.5)" x="-121">Ahy-LOC112790315</text><circle class="p" r="2" transform="rotate(257.8) translate(0,-67)"/></g>
<g id="ah-gL5"><path class="pk" d="M-122.5,0H-125" transform="rotate(346.5)"/><text class="g" transform="rotate(346.5)" x="-121">Ahy-LOC112791532</text><circle class="p" r="2" transform="rotate(253.6) translate(0,-69)"/></g>
<g id="ah-gL6"><path class="pk" d="M-122.5,0H-125" transform="rotate(332.5)"/><text class="g" transform="rotate(332.5)" x="-121">Ahy-LOC112858113</text><circle class="n" r="2" transform="rotate(242.5) translate(0,-72)"/></g>
<g id="ah-gL7"><path class="pk" d="M-122.5,0H-125" transform="rotate(327.2)"/><text class="g" transform="rotate(327.2)" x="-121">Ahy-LOC112784751</text><circle class="p" r="2" transform="rotate(237) translate(0,-72)"/></g>
<g id="ah-gB1"><path class="pk" d="M-122.5,0H-125" transform="rotate(276.5)"/><text class="g" transform="rotate(276.5)" x="-121">Ahy-LOC112779694</text><circle class="n" r="2" transform="rotate(186.7) translate(0,-74)"/></g>
<g id="ah-gB2"><path class="pk" d="M122.5,0H125" transform="rotate(85.5)"/><text class="g ge" transform="rotate(85.5)" x="121">Ahy-LOC112786449</text><circle class="y" r="2" transform="rotate(175) translate(0,-73)"/></g>
<g id="ah-links">
<path class="lb" d="M-119.6,9.4Q0,0 114.4,-36.1"/><path class="lc" d="M-119.3,12.5Q0,0 115.4,-33.1"/>
<path class="lc" d="M-118.8,16.7Q0,0 116.4,29"/>
<path class="lc" d="M-106.4,55.4Q0,0 120,-1"/>
<path class="lc" d="M-100.9,65Q0,0 105.4,57.4"/>
<path class="lc" d="M9.4,119.6Q0,0 90.8,78.4"/>
<path class="lk" d="M116.4,-29Q0,0 116.4,29"/>
<path class="lk" d="M114.4,-36.1Q0,0 105.4,57.4"/>
<path class="lk" d="M-117.4,24.9Q0,0 -106.4,55.4"/>
<path class="lk" d="M-118.4,19.8Q0,0 -13.6,119.2"/>
<path class="lk" d="M-116.7,28Q0,0 9.4,119.6"/>
</g>
</g>

<!-- Glycine max -->
<g id="glycine" transform="translate(548,1027)">
<g id="gm-Chr1" transform="rotate(1.3)"><circle class="ch" r="127" pathLength="360" stroke-dasharray="19.3 360" transform="rotate(-90)"/><text class="cl" transform="rotate(9.65) translate(0,-134.5)">Chr1</text><text class="tk" transform="rotate(-80.5)" x="130">25</text><text class="tk" transform="rotate(-71)" x="130">50</text></g>
<g id="gm-Chr2" transform="rotate(22.6)"><circle class="ch" r="127" pathLength="360" stroke-dasharray="20.3 360" transform="rotate(-90)"/><text class="cl" transform="rotate(10.15) translate(0,-134.5)">Chr2</text><text class="tk" transform="rotate(-80.5)" x="130">25</text><text class="tk" transform="rotate(-71)" x="130">50</text></g>
<g id="gm-Chr3" transform="rotate(44.9)"><circle class="ch" r="127" pathLength="360" stroke-dasharray="11.5 360" transform="rotate(-90)"/><text class="cl" transform="rotate(5.75) translate(0,-134.5)">Chr3</text><text class="tk" transform="rotate(-80.5)" x="130">25</text></g>
<g id="gm-Chr4" transform="rotate(58.4)"><circle class="ch" r="127" pathLength="360" stroke-dasharray="14.6 360" transform="rotate(-90)"/><text class="cl" transform="rotate(7.3) translate(0,-134.5)">Chr4</text><text class="tk" transform="rotate(-80.5)" x="130">25</text></g>
<g id="gm-Chr5" transform="rotate(75)"><circle class="ch" r="127" pathLength="360" stroke-dasharray="19.3 360" transform="rotate(-90)"/><text class="cl" transform="rotate(9.65) translate(0,-134.5)">Chr5</text><text class="tk" transform="rotate(-80.5)" x="130">25</text><text class="tk" transform="rotate(-71)" x="130">50</text></g>
<g id="gm-Chr6" transform="rotate(96.3)"><circle class="ch" r="127" pathLength="360" stroke-dasharray="15 360" transform="rotate(-90)"/><text class="cl" transform="rotate(7.5) translate(0,-134.5)">Chr6</text><text class="tk" transform="rotate(-80.5)" x="130">25</text></g>
<g id="gm-Chr7" transform="rotate(113.3)"><circle class="ch" r="127" pathLength="360" stroke-dasharray="16.7 360" transform="rotate(-90)"/><text class="cl" transform="rotate(-171.65) translate(0,138.5)">Chr7</text><text class="tk" transform="rotate(-80.5)" x="130">25</text></g>
<g id="gm-Chr8" transform="rotate(132)"><circle class="ch" r="127" pathLength="360" stroke-dasharray="16.4 360" transform="rotate(-90)"/><text class="cl" transform="rotate(-171.8) translate(0,138.5)">Chr8</text><text class="tk" transform="rotate(-80.5)" x="130">25</text></g>
<g id="gm-Chr9" transform="rotate(150.4)"><circle class="ch" r="127" pathLength="360" stroke-dasharray="15.8 360" transform="rotate(-90)"/><text class="cl" transform="rotate(-172.1) translate(0,138.5)">Chr9</text><text class="tk" transform="rotate(-80.5)" x="130">25</text></g>
<g id="gm-Chr10" transform="rotate(168.2)"><circle class="ch" r="127" pathLength="360" stroke-dasharray="18.3 360" transform="rotate(-90)"/><text class="cl" transform="rotate(-170.85) translate(0,137.5)">Chr10</text><text class="tk" transform="rotate(-80.5)" x="130">25</text></g>
<g id="gm-Chr11" transform="rotate(188.5)"><circle class="ch" r="127" pathLength="360" stroke-dasharray="11.1 360" transform="rotate(-90)"/><text class="cl" transform="rotate(-174.45) translate(0,137.5)">Chr11</text><text class="tk tl" transform="rotate(99.5)" x="-130">25</text></g>
<g id="gm-Chr12" transform="rotate(201.6)"><circle class="ch" r="127" pathLength="360" stroke-dasharray="14.2 360" transform="rotate(-90)"/><text class="cl" transform="rotate(-172.9) translate(0,138.5)">Chr12</text><text class="tk tl" transform="rotate(99.5)" x="-130">25</text></g>
<g id="gm-Chr13" transform="rotate(217.8)"><circle class="ch" r="127" pathLength="360" stroke-dasharray="17.1 360" transform="rotate(-90)"/><text class="cl" transform="rotate(-171.45) translate(0,138.5)">Chr13</text><text class="tk tl" transform="rotate(99.5)" x="-130">25</text></g>
<g id="gm-Chr14" transform="rotate(236.9)"><circle class="ch" r="127" pathLength="360" stroke-dasharray="13.1 360" transform="rotate(-90)"/><text class="cl" transform="rotate(-173.45) translate(0,138.5)">Chr14</text><text class="tk tl" transform="rotate(99.5)" x="-130">25</text></g>
<g id="gm-Chr15" transform="rotate(252)"><circle class="ch" r="127" pathLength="360" stroke-dasharray="19 360" transform="rotate(-90)"/><text class="cl" transform="rotate(-170.5) translate(0,138.5)">Chr15</text><text class="tk tl" transform="rotate(99.5)" x="-130">25</text><text class="tk tl" transform="rotate(108.8)" x="-130">50</text></g>
<g id="gm-Chr16" transform="rotate(273)"><circle class="ch" r="127" pathLength="360" stroke-dasharray="18 360" transform="rotate(-90)"/><text class="cl" transform="rotate(9) translate(0,-134.5)">Chr16</text><text class="tk tl" transform="rotate(99.5)" x="-130">25</text></g>
<g id="gm-Chr17" transform="rotate(293)"><circle class="ch" r="127" pathLength="360" stroke-dasharray="11.5 360" transform="rotate(-90)"/><text class="cl" transform="rotate(5.75) translate(0,-134.5)">Chr17</text><text class="tk tl" transform="rotate(99.5)" x="-130">25</text></g>
<g id="gm-Chr18" transform="rotate(306.5)"><circle class="ch" r="127" pathLength="360" stroke-dasharray="17.5 360" transform="rotate(-90)"/><text class="cl" transform="rotate(8.75) translate(0,-134.5)">Chr18</text><text class="tk tl" transform="rotate(99.5)" x="-130">25</text></g>
<g id="gm-Chr19" transform="rotate(326)"><circle class="ch" r="127" pathLength="360" stroke-dasharray="18 360" transform="rotate(-90)"/><text class="cl" transform="rotate(9) translate(0,-134.5)">Chr19</text><text class="tk tl" transform="rotate(99.5)" x="-130">25</text></g>
<g id="gm-Chr20" transform="rotate(346)"><circle class="ch" r="127" pathLength="360" stroke-dasharray="13.3 360" transform="rotate(-90)"/><text class="cl" transform="rotate(6.65) translate(0,-134.5)">Chr20</text><text class="tk tl" transform="rotate(99.5)" x="-130">25</text></g>
<g id="gm-gT1"><path class="pk" d="M-121.5,0H-124" transform="rotate(76.8)"/><text class="g" transform="rotate(76.8)" x="-120">Gma-LOC100798037</text><circle class="n" r="2" transform="rotate(346.8) translate(0,-70)"/></g>
<g id="gm-gT2"><path class="pk" d="M121.5,0H124" transform="rotate(-89)"/><text class="g ge" transform="rotate(-89)" x="120">Gma-LOC100809884</text><circle class="n" r="2" transform="rotate(1) translate(0,-71)"/></g>
<g id="gm-gT3"><path class="pk" d="M121.5,0H124" transform="rotate(-69.6)"/><text class="g ge" transform="rotate(-69.6)" x="120">Gma-LOC100808492</text><circle class="y" r="2" transform="rotate(20.4) translate(0,-71)"/></g>
<g id="gm-g17"><path class="pk" d="M-121.5,0H-124" transform="rotate(32.7)"/><text class="g" transform="rotate(32.7)" x="-120">Gma-LOC100527118</text><circle class="u" r="2" transform="rotate(302.7) translate(0,-70)"/></g>
<g id="gm-ga"><path class="pk" d="M121.5,0H124" transform="rotate(-33.3)"/><text class="g ge" transform="rotate(-33.3)" x="120">Gma-LOC100813040</text><circle class="n" r="2" transform="rotate(55.9) translate(0,-70)"/></g>
<g id="gm-gc"><path class="pk" d="M121.5,0H124" transform="rotate(-19)"/><text class="g ge" transform="rotate(-19)" x="120">Gma-LOC100809557</text><circle class="u" r="2" transform="rotate(67.9) translate(0,-70)"/></g>
<g id="gm-gd"><path class="pk" d="M121.5,0H124" transform="rotate(-10)"/><text class="g ge" transform="rotate(-10)" x="120">Gma-LOC100806551</text><circle class="p" r="2" transform="rotate(78) translate(0,-70)"/></g>
<g id="gm-ge"><path class="pk" d="M121.5,0H124" transform="rotate(8.7)"/><text class="g ge" transform="rotate(8.7)" x="120">Gma-LOC100816678</text><circle class="p" r="2" transform="rotate(98.6) translate(0,-70)"/></g>
<g id="gm-g15"><path class="pk" d="M-121.5,0H-124" transform="rotate(327.8)"/><text class="g" transform="rotate(327.8)" x="-120">Gma-LOC100794328</text><circle class="y" r="2" transform="rotate(239) translate(0,-68)"/></g>
<g id="gm-g11"><path class="pk" d="M-121.5,0H-124" transform="rotate(279.9)"/><text class="g" transform="rotate(279.9)" x="-120">Gma-LOC100813431</text><circle class="y" r="2" transform="rotate(190) translate(0,-69)"/></g>
<g id="gm-g10"><path class="pk" d="M121.5,0H124" transform="rotate(76.3)"/><text class="g ge" transform="rotate(76.3)" x="120">Gma-LOC100808885</text><circle class="u" r="2" transform="rotate(165.2) translate(0,-68)"/></g>
<g id="gm-links">
<path class="lk" d="M-27.2,-115.9Q0,0 2.1,-119"/>
<path class="lk" d="M-27.2,-115.9Q0,0 99.5,-65.3"/>
<path class="lk" d="M2.1,-119Q0,0 99.5,-65.3"/>
<path class="lk" d="M-100.1,-64.3Q0,0 41.5,-111.5"/>
<path class="lk" d="M-100.1,-64.3Q0,0 -20.5,117.2"/>
<path class="lk" d="M41.5,-111.5Q0,0 -20.5,117.2"/>
<path class="lk" d="M112.5,-38.7Q0,0 28.2,115.6"/>
<path class="lk" d="M117.2,-20.7Q0,0 117.6,18"/>
</g>
</g>
</svg>
